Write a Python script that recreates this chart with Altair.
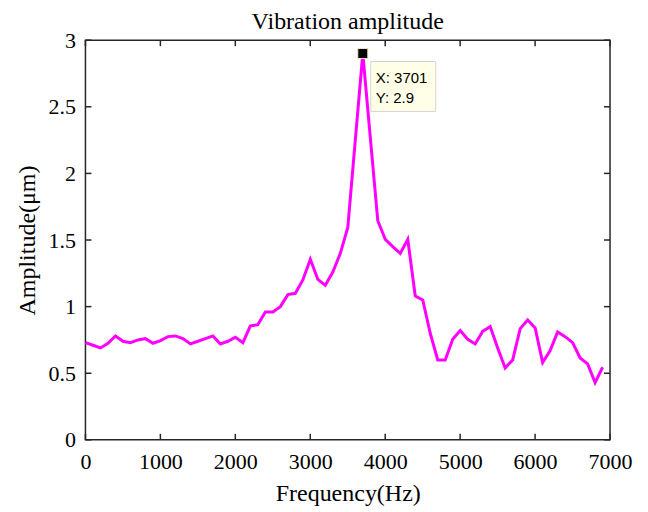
import altair as alt
import pandas as pd

# ---- data ----
freq = [1, 101, 201, 301, 401, 501, 601, 701, 801, 901,
        1001, 1101, 1201, 1301, 1401, 1501, 1601, 1701, 1801, 1901,
        2001, 2101, 2201, 2301, 2401, 2501, 2601, 2701, 2801, 2901,
        3001, 3101, 3201, 3301, 3401, 3501, 3601, 3701, 3801, 3901,
        4001, 4101, 4201, 4301, 4401, 4501, 4601, 4701, 4801, 4901,
        5001, 5101, 5201, 5301, 5401, 5501, 5601, 5701, 5801, 5901,
        6001, 6101, 6201, 6301, 6401, 6501, 6601, 6701, 6801, 6901]
amp = [0.73, 0.71, 0.69, 0.725, 0.78, 0.74, 0.73, 0.75, 0.76, 0.725,
       0.745, 0.775, 0.78, 0.76, 0.72, 0.74, 0.76, 0.78, 0.72, 0.74,
       0.77, 0.73, 0.855, 0.865, 0.96, 0.96, 1.0, 1.09, 1.10, 1.2,
       1.355, 1.205, 1.16, 1.26, 1.40, 1.595, 2.25, 2.9, 2.27, 1.645,
       1.505, 1.45, 1.40, 1.505, 1.08, 1.05, 0.80, 0.60, 0.60, 0.755,
       0.82, 0.755, 0.72, 0.815, 0.85, 0.69, 0.54, 0.60, 0.835, 0.90,
       0.84, 0.58, 0.67, 0.81, 0.775, 0.73, 0.615, 0.57, 0.43, 0.545]
x_ticks = [0, 1000, 2000, 3000, 4000, 5000, 6000, 7000]
y_ticks = [0, 0.5, 1, 1.5, 2, 2.5, 3]
peak_freq = 3701
peak_amp = 2.9

serif = "Liberation Serif"
sans = "Liberation Sans"
ink = "#262626"

W, H = 525, 400
x_min, x_max = x_ticks[0], x_ticks[-1]
y_min, y_max = y_ticks[0], y_ticks[-1]
tick_px = 6
tick_dx = tick_px * (x_max - x_min) / W   # tick length expressed in data units
tick_dy = tick_px * (y_max - y_min) / H

df = pd.DataFrame({"freq": freq, "amp": amp})
peak = pd.DataFrame({"freq": [peak_freq], "amp": [peak_amp],
                     "lx": [f"X: {peak_freq}"], "ly": [f"Y: {peak_amp}"]})

# inward tick segments (MATLAB box style), built from the tick values
xt_rows = []
for v in x_ticks:
    xt_rows.append({"freq": v, "freq2": v, "amp": y_min, "amp2": y_min + tick_dy})
    xt_rows.append({"freq": v, "freq2": v, "amp": y_max, "amp2": y_max - tick_dy})
for v in y_ticks:
    xt_rows.append({"freq": x_min, "freq2": x_min + tick_dx, "amp": v, "amp2": v})
    xt_rows.append({"freq": x_max, "freq2": x_max - tick_dx, "amp": v, "amp2": v})
ticks_df = pd.DataFrame(xt_rows)

xscale = alt.Scale(domain=[x_min, x_max], nice=False, zero=False)
yscale = alt.Scale(domain=[y_min, y_max], nice=False)

xenc = alt.X("freq:Q", scale=xscale,
             axis=alt.Axis(values=x_ticks, format="d", title="Frequency(Hz)",
                           ticks=False, domain=False, grid=False, labelFlush=False,
                           labelPadding=12, titlePadding=9))
yenc = alt.Y("amp:Q", scale=yscale,
             axis=alt.Axis(values=y_ticks, labelExpr="'' + datum.value",
                           title="Amplitude(μm)", labelFlush=False,
                           ticks=False, domain=False, grid=False,
                           labelPadding=10, titlePadding=8))

line = alt.Chart(df).mark_line(color="#FF00FF", strokeWidth=3).encode(x=xenc, y=yenc)

ticks = alt.Chart(ticks_df).mark_rule(color=ink, strokeWidth=1.5).encode(
    x="freq:Q", x2="freq2", y="amp:Q", y2="amp2")

marker = alt.Chart(peak).mark_square(size=100, color="black", filled=True, opacity=1,
                                     stroke="#e6e6c0", strokeWidth=1).encode(
    x="freq:Q", y="amp:Q")

box = alt.Chart(peak).mark_rect(fill="#FFFFE8", stroke="#d4d4d4", strokeWidth=1,
                                xOffset=8, x2Offset=73, yOffset=8, y2Offset=58).encode(
    x="freq:Q", x2="freq", y="amp:Q", y2="amp")

tx = alt.Chart(peak).mark_text(font=sans, fontSize=15, color="black", align="left",
                               baseline="middle", dx=13, dy=25).encode(
    x="freq:Q", y="amp:Q", text="lx:N")
ty = alt.Chart(peak).mark_text(font=sans, fontSize=15, color="black", align="left",
                               baseline="middle", dx=13, dy=45).encode(
    x="freq:Q", y="amp:Q", text="ly:N")

chart = alt.layer(line, ticks, marker, box, tx, ty).properties(
    width=W, height=H,
    title=alt.Title("Vibration amplitude", font=serif, fontSize=24,
                    fontWeight="normal", color="black", offset=0, dy=5),
    autosize=alt.AutoSizeParams(type="none"),
    padding={"left": 77.5, "top": 32, "right": 30, "bottom": 72},
).configure_axis(
    labelFont=serif, labelFontSize=22, labelColor="black",
    titleFont=serif, titleFontSize=24, titleFontWeight="normal", titleColor="black",
).configure_view(stroke=ink, strokeWidth=1.5)

chart.save("out.html", embed_options={"renderer": "svg", "actions": False})
